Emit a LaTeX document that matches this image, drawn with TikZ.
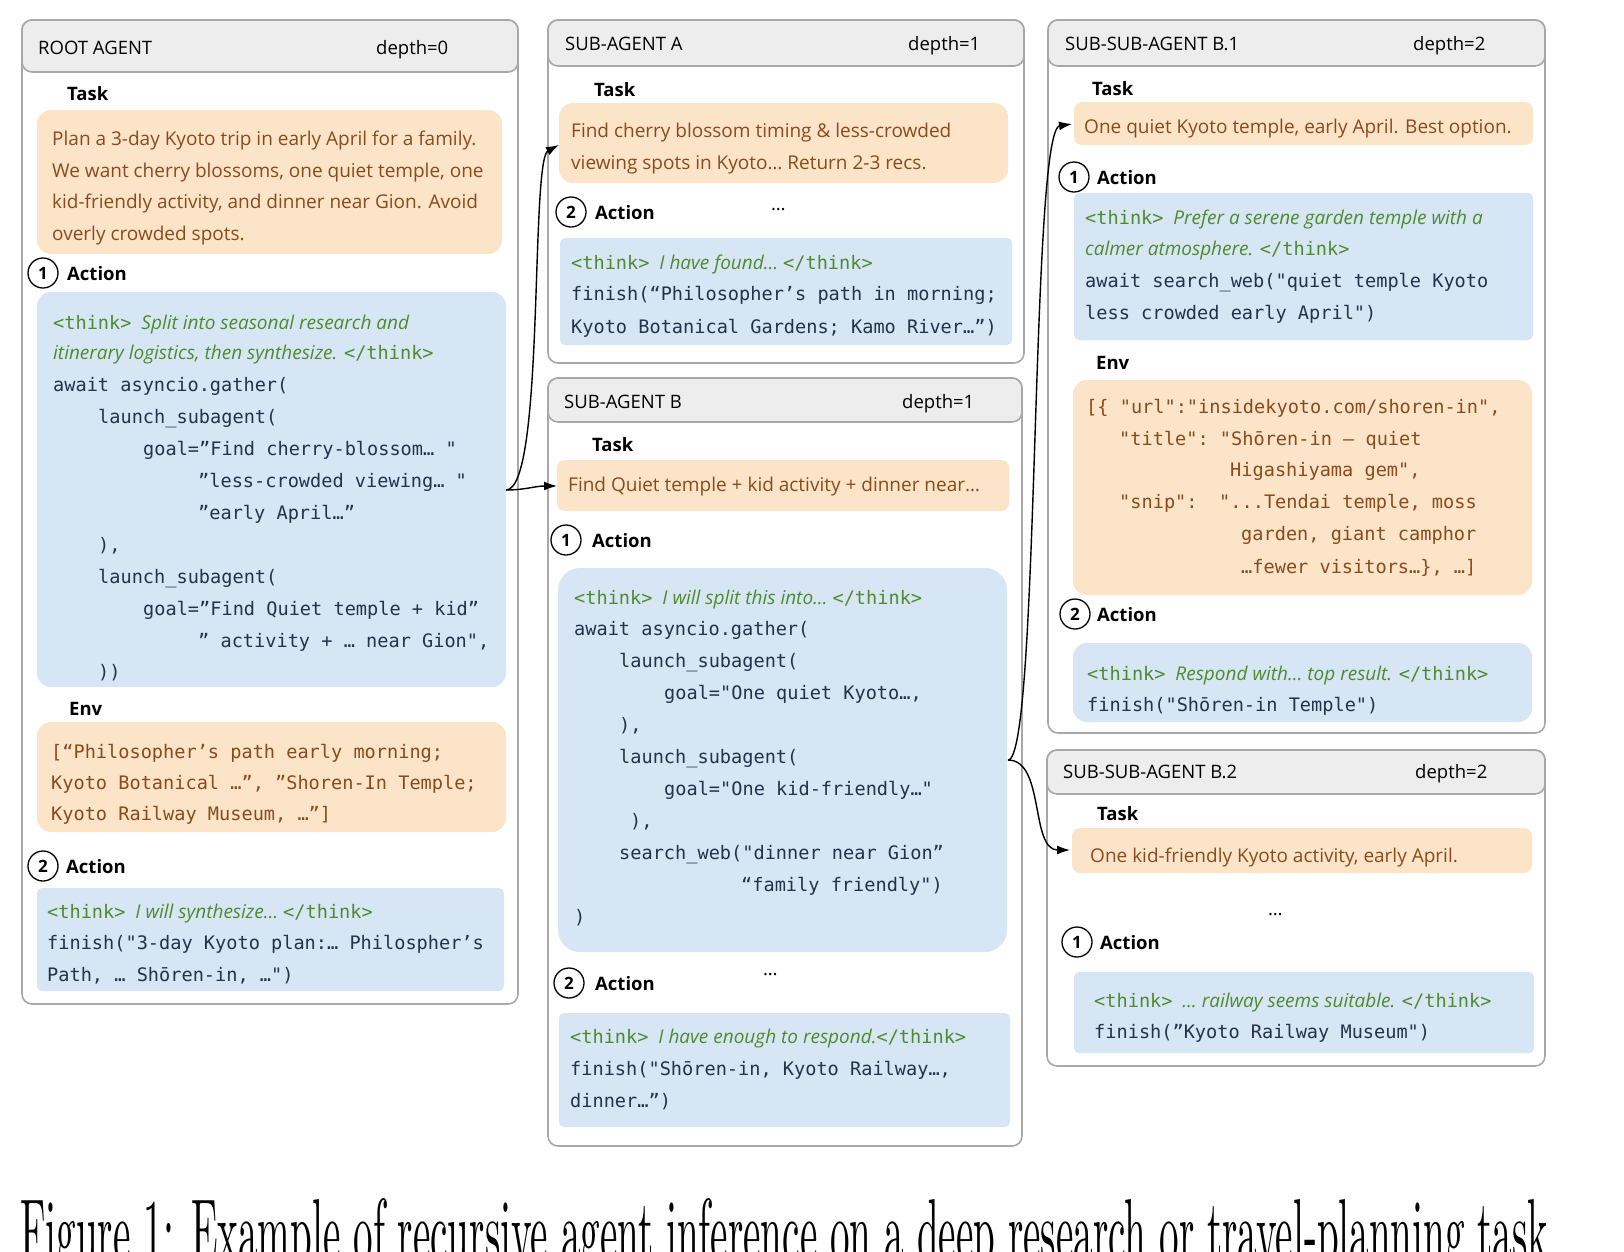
\documentclass[tikz,border=0pt]{standalone}
\usepackage{fontspec}
\setsansfont{Open Sans}
\setmonofont{DejaVu Sans Mono}
\usetikzlibrary{arrows.meta}
\definecolor{orf}{HTML}{FCE4C9}
\definecolor{ort}{HTML}{8A4B1C}
\definecolor{blf}{HTML}{D7E6F5}
\definecolor{cdt}{HTML}{26324A}
\definecolor{grt}{HTML}{4F8A2E}
\definecolor{hdf}{HTML}{EDEDED}
\definecolor{bdc}{HTML}{A8A8A8}
\tikzset{
 panel/.style={draw=bdc,line width=1.6pt,fill=white,rounded corners=10pt},
 hdr/.style={draw=bdc,line width=1.6pt,fill=hdf},
 obox/.style={fill=orf,rounded corners=14pt},
 bbox/.style={fill=blf,rounded corners=14pt},
 sbox/.style={fill=blf,rounded corners=5pt},
 ln/.style={anchor=base west,inner sep=0pt},
 otx/.style={ln,font=\sffamily\fontsize{19}{20}\selectfont,text=ort},
 omo/.style={ln,font=\ttfamily\fontsize{18.6}{20}\selectfont,text=ort},
 cmo/.style={ln,font=\ttfamily\fontsize{18.6}{20}\selectfont,text=cdt},
 thx/.style={ln,text=grt,font=\sffamily\fontsize{19}{20}\selectfont},
 lab/.style={ln,font=\sffamily\bfseries\fontsize{18.5}{20}\selectfont},
 htx/.style={ln,font=\sffamily\fontsize{18.5}{20}\selectfont},
 num/.style={draw,circle,line width=1.3pt,minimum size=30pt,inner sep=0pt,font=\sffamily\bfseries\fontsize{17}{20}\selectfont},
 arr/.style={-{Latex[length=13pt,width=9pt]},line width=1.4pt},
}
\newcommand{\thk}{{\ttfamily\fontsize{18.6}{20}\selectfont <think>}}
\newcommand{\ethk}{{\ttfamily\fontsize{18.6}{20}\selectfont </think>}}
\newcommand{\gi}[1]{{\itshape #1}}
\begin{document}
\begin{tikzpicture}[x=1pt,y=-1pt]
\useasboundingbox (0,0) rectangle (1624,1251);
\fill[white] (0,0) rectangle (1624,1251);
% ---------- ROOT ----------
\draw[panel] (22,20) rectangle (518,1004);
\draw[hdr,rounded corners=10pt] (22,72) |- (518,20) |- cycle;
\node[htx] (rt) at (38,54) {ROOT AGENT};
\node[htx] (rd) at (376,54) {depth=0};
\node[lab] (rtask) at (67,100) {Task};
\fill[obox] (37,110) rectangle (502,254);
\node[otx] at (52,145) {Plan a 3-day Kyoto trip in early April for a family.};
\node[otx] at (52,177) {We want cherry blossoms, one quiet temple, one};
\node[otx] at (52,208) {kid-friendly activity, and dinner near Gion. Avoid};
\node[otx] at (52,240) {overly crowded spots.};
\node[num] (r1) at (43,273) {1};
\node[lab] at (67,280) {Action};
\fill[bbox] (37,292) rectangle (506,687);
\node (rb) at (506,490) {};
\node[thx] at (53,329) {\thk\ \ \gi{Split into seasonal research and}};
\node[thx] at (53,359) {\gi{itinerary logistics, then synthesize.} \ethk};
\node[cmo] at (53,391) {await asyncio.gather(};
\node[cmo] at (98,423) {launch\_subagent(};
\node[cmo] at (143,455) {goal=”Find cherry-blossom… "};
\node[cmo] at (198,487) {”less-crowded viewing… "};
\node[cmo] at (198,519) {”early April…”};
\node[cmo] at (98,551) {),};
\node[cmo] at (98,583) {launch\_subagent(};
\node[cmo] at (143,615) {goal=”Find Quiet temple + kid”};
\node[cmo] at (198,647) {” activity + … near Gion",};
\node[cmo] at (98,678) {))};
\node[lab] at (69,715) {Env};
\fill[obox] (37,722) rectangle (506,832);
\node[omo] at (51,758) {[“Philosopher’s path early morning;};
\node[omo] at (51,789) {Kyoto Botanical …”, ”Shoren-In Temple;};
\node[omo] at (51,820) {Kyoto Railway Museum, …”]};
\node[num] (r2) at (43,866) {2};
\node[lab] at (66,873) {Action};
\fill[sbox] (37,888) rectangle (504,991);
\node[thx] at (47,918) {\thk\ \ \gi{I will synthesize…} \ethk};
\node[cmo] at (47,949) {finish("3-day Kyoto plan:… Philospher’s};
\node[cmo] at (47,981) {Path, … Shōren-in, …")};
% ---------- SUB A ----------
\draw[panel] (548,20) rectangle (1024,363);
\draw[hdr,rounded corners=10pt] (548,66) |- (1024,20) |- cycle;
\node[htx] at (565,50) {SUB-AGENT A};
\node[htx] at (908,50) {depth=1};
\node[lab] at (594,96) {Task};
\fill[obox] (559,103) rectangle (1008,183);
\node (at) at (559,145) {};
\node[otx] at (571,137) {Find cherry blossom timing \& less-crowded};
\node[otx] at (571,169) {viewing spots in Kyoto… Return 2-3 recs.};
\node[num] (a2) at (571,212) {2};
\node[lab] at (595,219) {Action};
\node[htx] at (771,210) {…};
\fill[sbox] (560,238) rectangle (1012,345);
\node[thx] at (571,269) {\thk\ \ \gi{I have found…} \ethk};
\node[cmo] at (571,300) {finish(“Philosopher’s path in morning;};
\node[cmo] at (571,333) {Kyoto Botanical Gardens; Kamo River…”)};
% ---------- SUB B ----------
\draw[panel] (548,378) rectangle (1022,1146);
\draw[hdr,rounded corners=10pt] (548,422) |- (1022,378) |- cycle;
\node[htx] at (564,408) {SUB-AGENT B};
\node[htx] at (902,408) {depth=1};
\node[lab] at (592,451) {Task};
\fill[obox,rounded corners=8pt] (557,460) rectangle (1009,511);
\node (bt) at (557,486) {};
\node[otx] at (568,491) {Find Quiet temple + kid activity + dinner near…};
\node[num] (b1) at (566,540) {1};
\node[lab] at (592,547) {Action};
\fill[bbox,rounded corners=22pt] (558,568) rectangle (1007,952);
\node (bb) at (1008,760) {};
\node[thx] at (574,604) {\thk\ \ \gi{I will split this into…} \ethk};
\node[cmo] at (574,635) {await asyncio.gather(};
\node[cmo] at (619,667) {launch\_subagent(};
\node[cmo] at (664,699) {goal="One quiet Kyoto…,};
\node[cmo] at (619,731) {),};
\node[cmo] at (619,763) {launch\_subagent(};
\node[cmo] at (664,795) {goal="One kid-friendly…"};
\node[cmo] at (630,827) {),};
\node[cmo] at (619,859) {search\_web("dinner near Gion”};
\node[cmo] at (741,891) {“family friendly")};
\node[cmo] at (574,923) {)};
\node[htx] at (763,975) {…};
\node[num] (b2) at (569,983) {2};
\node[lab] at (595,990) {Action};
\fill[sbox] (559,1013) rectangle (1010,1127);
\node[thx] at (570,1043) {\thk\ \ \gi{I have enough to respond.}\ethk};
\node[cmo] at (570,1075) {finish("Shōren-in, Kyoto  Railway…,};
\node[cmo] at (570,1107) {dinner…”)};
% ---------- B.1 ----------
\draw[panel] (1048,20) rectangle (1545,733);
\draw[hdr,rounded corners=10pt] (1048,66) |- (1545,20) |- cycle;
\node[htx] at (1065,50) {SUB-SUB-AGENT B.1};
\node[htx] at (1413,50) {depth=2};
\node[lab] at (1092,95) {Task};
\fill[obox,rounded corners=8pt] (1074,102) rectangle (1533,145);
\node (c1t) at (1072,124) {};
\node[otx] at (1084,133) {One quiet Kyoto temple, early April. Best option.};
\node[num] (c11) at (1074,177) {1};
\node[lab] at (1097,184) {Action};
\fill[sbox] (1074,193) rectangle (1533,340);
\node[thx] at (1085,224) {\thk\ \ \gi{Prefer a serene garden temple with a}};
\node[thx] at (1085,255) {\gi{calmer atmosphere.} \ethk};
\node[cmo] at (1085,287) {await search\_web("quiet temple Kyoto};
\node[cmo] at (1085,319) {less crowded early April")};
\node[lab] at (1096,369) {Env};
\fill[obox] (1073,380) rectangle (1532,595);
\node[omo] at (1086,413) {[\{ "url":"insidekyoto.com/shoren-in",};
\node[omo] at (1119,445) {"title": "Shōren-in — quiet};
\node[omo] at (1230,476) {Higashiyama gem",};
\node[omo] at (1119,508) {"snip":};
\node[omo] at (1219,508) {"...Tendai temple, moss};
\node[omo] at (1241,540) {garden, giant camphor};
\node[omo] at (1241,573) {…fewer visitors…\}, …]};
\node[num] (c12) at (1075,614) {2};
\node[lab] at (1097,621) {Action};
\fill[bbox] (1073,643) rectangle (1532,722);
\node[thx] at (1087,680) {\thk\ \ \gi{Respond with… top result.} \ethk};
\node[cmo] at (1087,711) {finish("Shōren-in Temple")};
% ---------- B.2 ----------
\draw[panel] (1047,750) rectangle (1545,1066);
\draw[hdr,rounded corners=10pt] (1047,794) |- (1545,750) |- cycle;
\node[htx] at (1063,778) {SUB-SUB-AGENT B.2};
\node[htx] at (1415,778) {depth=2};
\node[lab] at (1097,820) {Task};
\fill[obox,rounded corners=8pt] (1072,828) rectangle (1532,873);
\node (c2t) at (1070,850) {};
\node[otx] at (1090,862) {One kid-friendly Kyoto activity, early April.};
\node[htx] at (1268,915) {…};
\node[num] (c21) at (1077,942) {1};
\node[lab] at (1100,949) {Action};
\fill[sbox] (1074,972) rectangle (1534,1053);
\node[thx] at (1094,1007) {\thk\ \ \gi{… railway seems suitable.} \ethk};
\node[cmo] at (1094,1038) {finish(”Kyoto Railway Museum")};
% ---------- arrows ----------
\draw[arr] (rb.center) .. controls (545,490) and (530,160) .. (at.center);
\draw[arr] (rb.center) .. controls (525,490) and (535,486) .. (bt.center);
\draw[arr] (bb.center) .. controls (1040,760) and (1030,130) .. (c1t.center);
\draw[arr] (bb.center) .. controls (1045,760) and (1030,850) .. (c2t.center);
% ---------- caption ----------
\node[anchor=base west,inner sep=0pt] (cap) at (20,1262) {\resizebox{1528pt}{64pt}{Figure 1: Example of recursive agent inference on a deep research or travel-planning task}};
\end{tikzpicture}
\end{document}
